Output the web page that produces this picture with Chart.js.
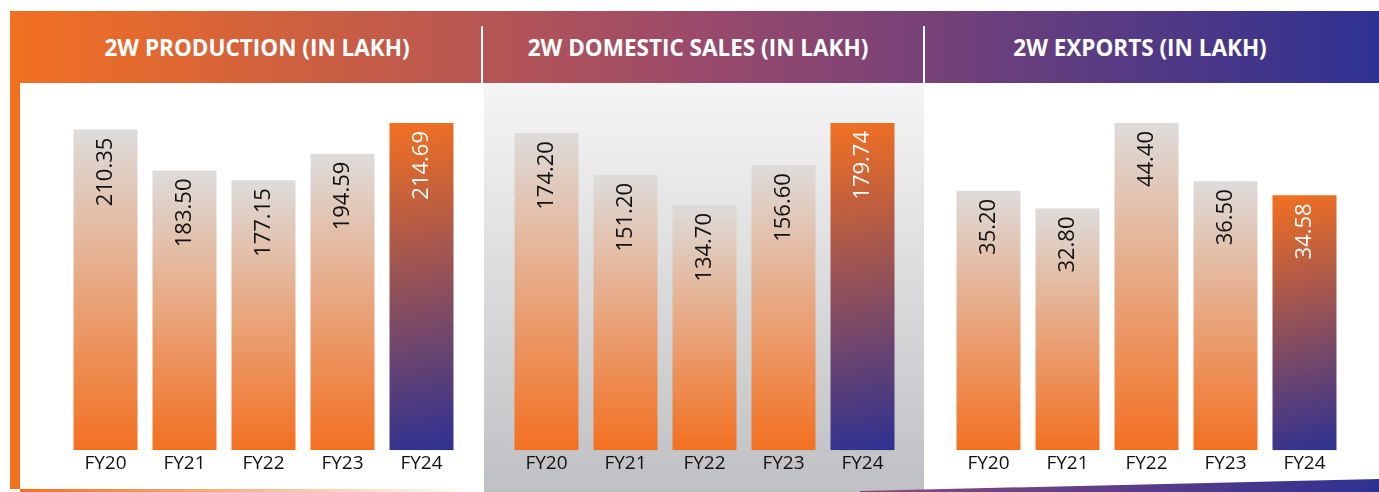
<!DOCTYPE html>
<html>
<head>
<meta charset="utf-8">
<title>2W Production, Domestic Sales and Exports</title>
<script src="https://cdn.jsdelivr.net/npm/chart.js@4.4.1/dist/chart.umd.min.js"></script>
<style>
  body { margin: 0; background: #fff; }
  #board { position: relative; width: 1379px; height: 492px; overflow: hidden; font-family: 'Open Sans', sans-serif; }
  #board > div { position: absolute; }
  .band { left: 10px; top: 11px; width: 1369px; height: 72px;
          background: linear-gradient(to right, #f37021 0%, #9b4a6a 50%, #2e3192 100%); }
  .stripe { left: 10px; top: 83px; width: 10px; height: 406px; background: #f37021; }
  .base-left { left: 20px; top: 489px; width: 460px; height: 3px;
               background: linear-gradient(to right, #f37021, rgba(243, 112, 33, 0)); }
  .mid-panel { left: 484px; top: 83px; width: 440px; height: 409px;
               background: linear-gradient(#f5f5f5, #bfc0c3); }
  .base-right { left: 860px; top: 479px; width: 519px; height: 13px;
                background: linear-gradient(to right, #8b4a7d, #2e3192);
                clip-path: polygon(0 12px, 100% 0, 100% 100%, 0 100%); }
  .divider { top: 26px; width: 2px; height: 57px; background: #fff; }
  .title { top: 12px; width: 500px; height: 72px; line-height: 72px; color: #fff;
           font-weight: 700; font-size: 22.5px; text-align: center; white-space: nowrap; }
  .plot { top: 83px; width: 395px; height: 409px; }
</style>
</head>
<body>
<div id="board">
  <div class="band"></div>
  <div class="stripe"></div>
  <div class="base-left"></div>
  <div class="mid-panel"></div>
  <div class="base-right"></div>
  <div class="divider" style="left:481px"></div>
  <div class="divider" style="left:923px"></div>
  <div class="title" style="left:7px">2W PRODUCTION (IN LAKH)</div>
  <div class="title" style="left:448px">2W DOMESTIC SALES (IN LAKH)</div>
  <div class="title" style="left:890px">2W EXPORTS (IN LAKH)</div>
  <div class="plot" style="left:66px"><canvas id="productionChart" width="395" height="409"></canvas></div>
  <div class="plot" style="left:507px"><canvas id="domesticChart" width="395" height="409"></canvas></div>
  <div class="plot" style="left:949px"><canvas id="exportsChart" width="395" height="409"></canvas></div>
</div>
<script>
const years = ['FY20', 'FY21', 'FY22', 'FY23', 'FY24'];
const production = [210.35, 183.50, 177.15, 194.59, 214.69];
const domesticSales = [174.20, 151.20, 134.70, 156.60, 179.74];
const exportsData = [35.20, 32.80, 44.40, 36.50, 34.58];

const ORANGE = '#f37021';
const INDIGO = '#2e3192';
const BAR_SHARE = 0.81;

// latest year gets the orange-to-indigo fill, the rest fade from grey into orange
const barFill = (c) => {
    if (c.type !== 'data') return ORANGE;
    const chart = c.chart;
    const area = chart.chartArea;
    if (!area) return ORANGE;
    const x = chart.scales.x.getPixelForValue(c.dataIndex);
    const half = (area.right - area.left) / years.length * BAR_SHARE / 2;
    const top = chart.scales.y.getPixelForValue(c.raw);
    const bottom = chart.scales.y.getPixelForValue(0);
    if (c.dataIndex === years.length - 1) {
        const g = chart.ctx.createLinearGradient(x - half, top, x + half, bottom);
        g.addColorStop(0, ORANGE);
        g.addColorStop(1, INDIGO);
        return g;
    }
    const g = chart.ctx.createLinearGradient(0, top, 0, bottom);
    g.addColorStop(0, '#dddcdb');
    g.addColorStop(1, ORANGE);
    return g;
};

const valueLabels = {
    id: 'valueLabels',
    afterDatasetsDraw(chart) {
        const ctx = chart.ctx;
        const values = chart.data.datasets[0].data;
        chart.getDatasetMeta(0).data.forEach((bar, i) => {
            ctx.save();
            ctx.translate(bar.x, bar.y + 8);
            ctx.rotate(-Math.PI / 2);
            ctx.font = '22px "Open Sans"';
            ctx.fillStyle = i === values.length - 1 ? '#fff' : '#111';
            ctx.textAlign = 'right';
            ctx.textBaseline = 'middle';
            ctx.fillText(values[i].toFixed(2), 0, 0);
            ctx.restore();
        });
    }
};

const makeChart = (id, values) => new Chart(document.getElementById(id), {
    type: 'bar',
    data: {
        labels: years,
        datasets: [{
            data: values,
            backgroundColor: barFill,
            borderWidth: 0,
            barPercentage: BAR_SHARE,
            categoryPercentage: 1
        }]
    },
    options: {
        responsive: false,
        animation: false,
        layout: { padding: { top: 40, bottom: 15, left: 0, right: 0 } },
        plugins: { legend: { display: false }, tooltip: { enabled: false } },
        scales: {
            x: {
                grid: { display: false, drawTicks: false },
                border: { display: false },
                ticks: { color: '#111', padding: 2, font: { family: 'Open Sans', size: 19 } }
            },
            y: { display: false, min: 0, max: Math.max(...values) }
        }
    },
    plugins: [valueLabels]
});

makeChart('productionChart', production);
makeChart('domesticChart', domesticSales);
makeChart('exportsChart', exportsData);
</script>
</body>
</html>
